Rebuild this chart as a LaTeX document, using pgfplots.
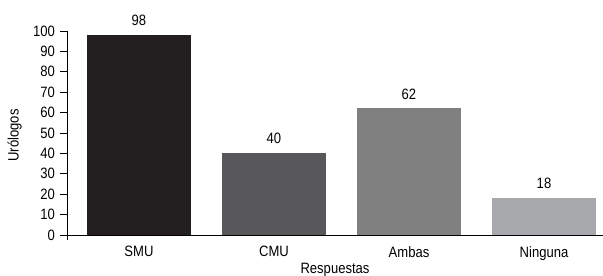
\documentclass[border=0pt]{standalone}
\usepackage{fontspec}
\setmainfont{Liberation Sans}[FakeStretch=0.87]
\usepackage{pgfplots}
\pgfplotsset{compat=1.18}
\definecolor{c1}{HTML}{231F20}
\definecolor{c2}{HTML}{58585A}
\definecolor{c3}{HTML}{808080}
\definecolor{c4}{HTML}{A7A9AC}
\begin{document}
\fontsize{15bp}{18bp}\selectfont
\begin{tikzpicture}
\begin{axis}[
  scale only axis,
  width=536bp, height=209bp,
  xmin=-0.533, xmax=3.437,
  ymin=-2.5, ymax=100,
  axis x line*=bottom,
  x axis line style={draw=none},
  axis y line*=left,
  ytick={0,10,...,100},
  xtick={0,1,2,3},
  xticklabels={SMU,CMU,Ambas,Ninguna},
  xtick style={draw=none},
  xticklabel style={yshift=6bp},
  tick align=outside,
  major tick length=7bp,
  /pgf/number format/assume math mode=true,
  ylabel={Urólogos},
  ylabel style={yshift=1bp},
  xlabel={Respuestas},
  xlabel style={yshift=7bp},
  clip=false,
  bar width=0.77,
  ybar, bar shift=0pt,
  nodes near coords,
  every node near coord/.append style={yshift=4bp},
  y axis line style={line width=0.8pt},
  ytick style={black, line width=0.8pt},
]
\addplot[fill=c1, draw=none] coordinates {(0,98)};
\addplot[fill=c2, draw=none] coordinates {(1,40)};
\addplot[fill=c3, draw=none] coordinates {(2,62)};
\addplot[fill=c4, draw=none] coordinates {(3,18)};
\draw[line width=0.8pt] (axis cs:-0.533,0) -- (axis cs:3.437,0);
\coordinate (BL) at (rel axis cs:0,0);
\end{axis}
\pgfresetboundingbox
\path[use as bounding box] (BL) ++(-67bp,-36bp) rectangle ++(603bp,276bp);
\end{tikzpicture}
\end{document}
